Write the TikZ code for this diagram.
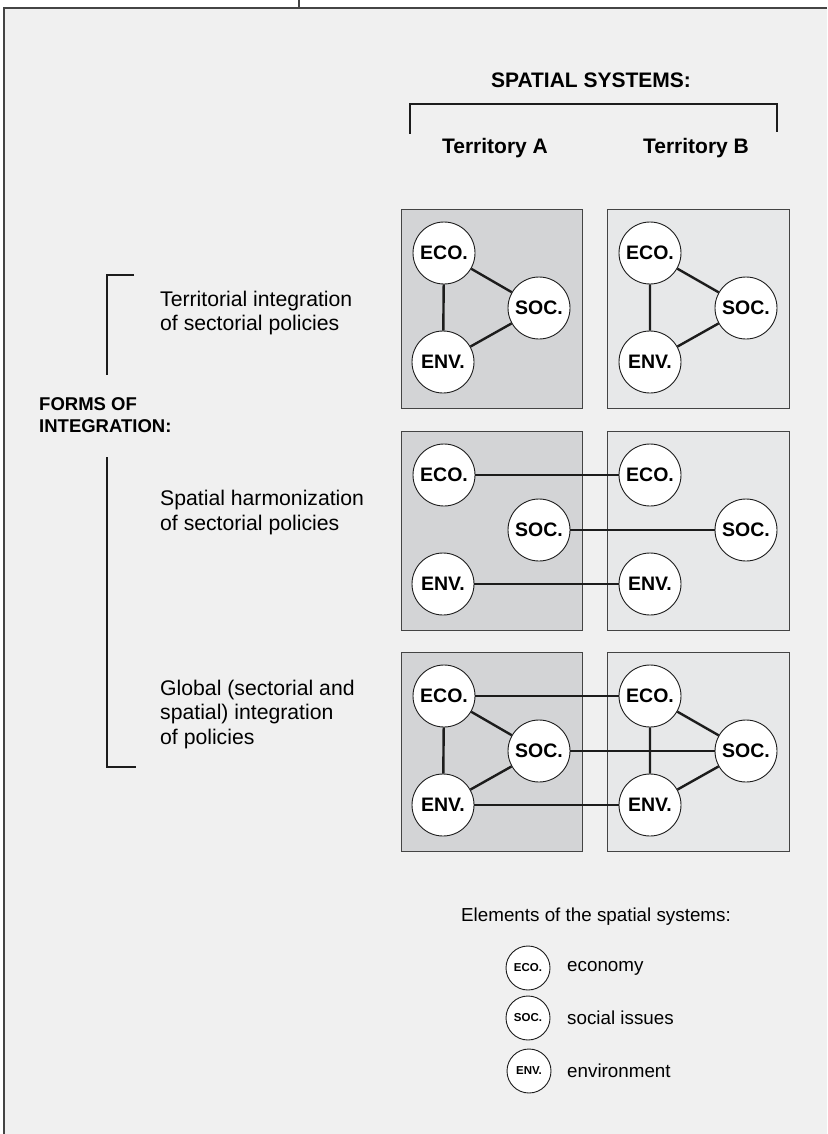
\documentclass[tikz,border=0pt]{standalone}
\usepackage{fontspec}
\setmainfont{Liberation Sans}
\definecolor{bgc}{HTML}{F0F0F0}
\definecolor{boxa}{HTML}{D3D4D6}
\definecolor{boxb}{HTML}{E7E8E9}
\definecolor{framec}{HTML}{444444}
\definecolor{linec}{HTML}{1C1C1C}
\begin{document}
\begin{tikzpicture}[x=1pt,y=-1pt,
  elem/.style={circle,draw=linec,line width=0.9pt,fill=white,minimum size=62pt,inner sep=0pt,
    font=\fontsize{19.5}{19.5}\selectfont\bfseries},
  legelem/.style={circle,draw=linec,line width=0.9pt,fill=white,minimum size=44pt,inner sep=0pt,
    font=\fontsize{11.5}{11.5}\selectfont\bfseries},
  link/.style={draw=linec,line width=2.4pt},
  brk/.style={draw=linec,line width=2.2pt},
  terrbox/.style={draw=framec,line width=0.9pt},
  head/.style={inner sep=0pt,font=\fontsize{21}{24}\selectfont\bfseries},
  lefttxt/.style={inner sep=0pt,anchor=west,align=left,font=\fontsize{21.2}{24.5}\selectfont},
  legtxt/.style={inner sep=0pt,anchor=west,font=\fontsize{18.8}{22}\selectfont}
]
\useasboundingbox (0,0) rectangle (827,1134);
\fill[white] (0,0) rectangle (827,1134);
\fill[bgc] (4,8) rectangle (827,1134);
\draw[framec,line width=1.3pt] (4,1134) -- (4,8) -- (827,8);
\draw[framec,line width=1.3pt] (299,0) -- (299,8);

% headings
\node[head] (sps) at (591,80) {SPATIAL SYSTEMS:};
\draw[brk] (410,134) -- (410,104) -- (777,104) -- (777,132);
\node[head] (ta) at (495,148) {Territory A};
\node[head] (tb) at (696,148) {Territory B};

% left side
\draw[brk] (134,275) -- (107,275) -- (107,375);
\draw[brk] (107,457) -- (107,767) -- (136,767);
\node[inner sep=0pt,anchor=west,align=left,font=\fontsize{18.5}{22}\selectfont\bfseries] (forms) at (39,415) {FORMS OF\\INTEGRATION:};
\node[lefttxt] (t1) at (160,313) {Territorial integration\\of sectorial policies};
\node[lefttxt] (t2) at (160,512.5) {Spatial harmonization\\of sectorial policies};
\node[lefttxt] (t3) at (160,714.5) {Global (sectorial and\\spatial) integration\\of policies};

% boxes
\foreach \r/\top in {1/209,2/431,3/652}{
  \draw[terrbox,fill=boxa] (401,\top) rectangle (582,\top+199);
  \draw[terrbox,fill=boxb] (607,\top) rectangle (789,\top+199);
  \node[elem] (ecoA\r) at (444,\top+44) {ECO.};
  \node[elem] (socA\r) at (539,\top+99) {SOC.};
  \node[elem] (envA\r) at (443,\top+153) {ENV.};
  \node[elem] (ecoB\r) at (650,\top+44) {ECO.};
  \node[elem] (socB\r) at (746,\top+99) {SOC.};
  \node[elem] (envB\r) at (650,\top+153) {ENV.};
}

% row 1
\draw[link] (ecoA1) -- (socA1) (ecoA1) -- (envA1) (socA1) -- (envA1);
\draw[link] (ecoB1) -- (socB1) (ecoB1) -- (envB1) (socB1) -- (envB1);
% row 2
\draw[link] (ecoA2) -- (ecoB2) (socA2) -- (socB2) (envA2) -- (envB2);
% row 3
\draw[link] (ecoA3) -- (socA3) (ecoA3) -- (envA3) (socA3) -- (envA3);
\draw[link] (ecoB3) -- (socB3) (ecoB3) -- (envB3) (socB3) -- (envB3);
\draw[link] (ecoA3) -- (ecoB3) (socA3) -- (socB3) (envA3) -- (envB3);

% legend
\node[legtxt] (legh) at (461,917) {Elements of the spatial systems:};
\node[legelem] (leco) at (528,968) {ECO.};
\node[legelem] (lsoc) at (528,1018) {SOC.};
\node[legelem] (lenv) at (529,1071) {ENV.};
\node[legtxt] (leco-t) at (567,968) {economy};
\node[legtxt] (lsoc-t) at (567,1018) {social issues};
\node[legtxt] (lenv-t) at (567,1071) {environment};
\end{tikzpicture}
\end{document}
